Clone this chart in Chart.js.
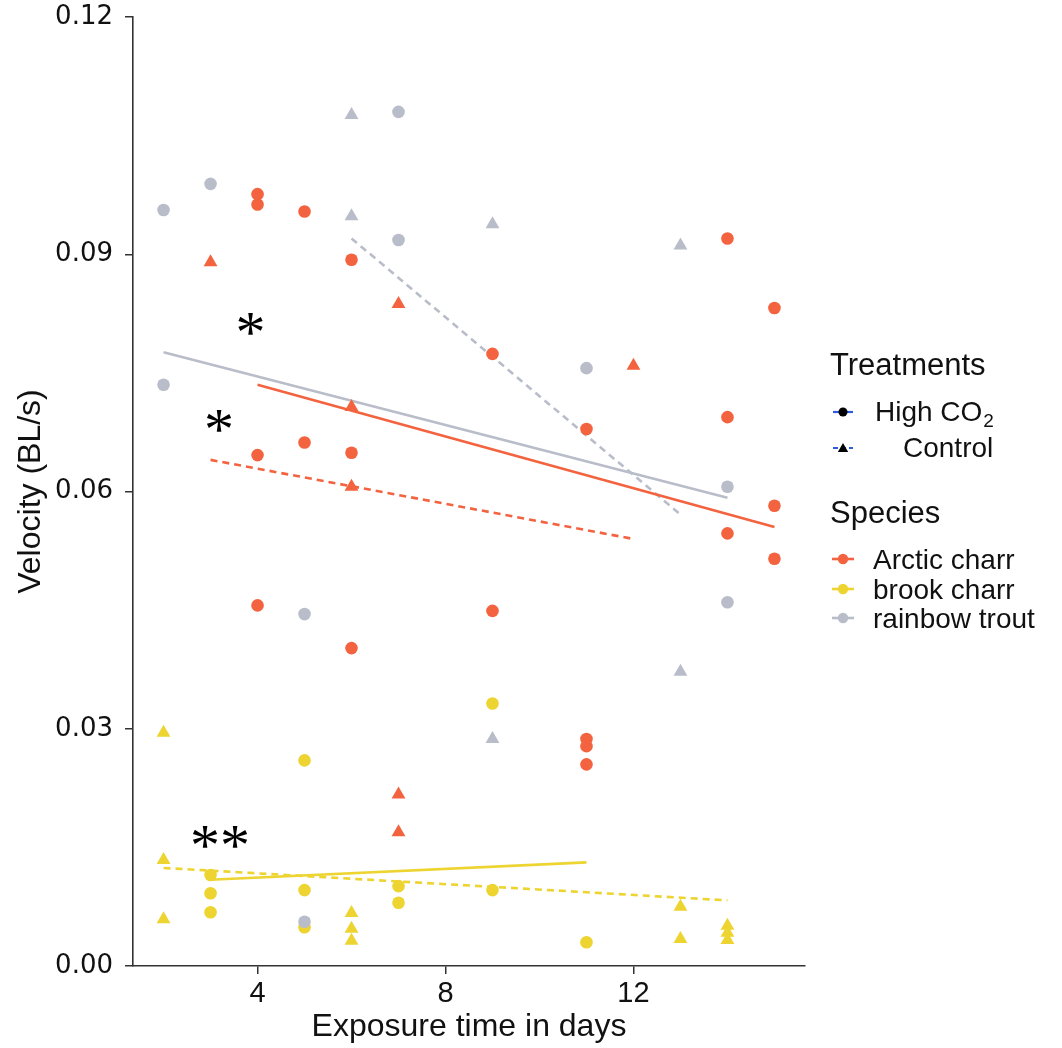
<!DOCTYPE html>
<html><head><meta charset="utf-8">
<script src="https://cdn.jsdelivr.net/npm/chart.js@4.4.0/dist/chart.umd.min.js"></script>
<style>html,body{margin:0;padding:0;background:#fff;} #wrap{width:1062px;height:1048px;}</style>
</head><body><div id="wrap"><canvas id="c" width="1062" height="1048"></canvas></div>
<script>
// ---------- data ----------
const speciesNames = ['Arctic charr', 'brook charr', 'rainbow trout'];
const treatmentNames = ['High CO₂', 'Control'];
const legendTitles = ['Treatments', 'Species'];
const xTickValues = [4, 8, 12];
const yTickValues = [0, 0.03, 0.06, 0.09, 0.12];
const xTitle = 'Exposure time in days';
const yTitle = 'Velocity (BL/s)';

const arcticHighX = [4, 4, 4, 4, 5, 5, 6, 6, 6, 9, 9, 11, 11, 11, 11, 14, 14, 14, 15, 15, 15];
const arcticHighY = [0.0976, 0.0963, 0.0646, 0.0456, 0.0954, 0.0662, 0.0893, 0.0649, 0.0402, 0.0774, 0.0449, 0.0679, 0.0287, 0.0278, 0.0255, 0.0920, 0.0694, 0.0547, 0.0832, 0.0582, 0.0515];
const arcticCtrlX = [3, 6, 6, 7, 7, 7, 12];
const arcticCtrlY = [0.0890, 0.0707, 0.0606, 0.0837, 0.0217, 0.0169, 0.0759];
const brookHighX = [3, 3, 3, 5, 5, 5, 7, 7, 9, 9, 11];
const brookHighY = [0.0115, 0.0092, 0.0068, 0.0260, 0.0096, 0.0049, 0.0101, 0.0080, 0.0332, 0.0096, 0.0030];
const brookCtrlX = [2, 2, 2, 6, 6, 6, 13, 13, 14, 14, 14];
const brookCtrlY = [0.0295, 0.0134, 0.0059, 0.0067, 0.0047, 0.0032, 0.0075, 0.0034, 0.0051, 0.0042, 0.0033];
const troutHighX = [2, 2, 3, 5, 5, 7, 7, 11, 14, 14];
const troutHighY = [0.0956, 0.0735, 0.0989, 0.0445, 0.0056, 0.1080, 0.0918, 0.0756, 0.0606, 0.0460];
const troutCtrlX = [6, 6, 9, 9, 13, 13];
const troutCtrlY = [0.1076, 0.0948, 0.0938, 0.0287, 0.0911, 0.0372];

// fitted trend lines (start, end)
const arcticHighFitX = [4, 15],  arcticHighFitY = [0.0735, 0.0555];
const arcticCtrlFitX = [3, 12],  arcticCtrlFitY = [0.0640, 0.0540];
const brookHighFitX = [3, 11],   brookHighFitY = [0.0109, 0.0131];
const brookCtrlFitX = [2, 14],   brookCtrlFitY = [0.0124, 0.0083];
const troutHighFitX = [2, 14],   troutHighFitY = [0.0776, 0.0592];
const troutCtrlFitX = [6, 13],   troutCtrlFitY = [0.0920, 0.0571];

// significance marks
const sigText = ['*', '*', '**'];
const sigX = [3.85, 3.18, 3.2];
const sigY = [0.0812, 0.0689, 0.0163];

// ---------- styles ----------
const COL = ['#F4633F', '#EDD431', '#B9BDCA'];
const FONT = 'Liberation Sans, Arial, sans-serif';
const INK = '#111111';
const AXIS = '#333333';

const pts = (xs, ys) => xs.map((x, i) => ({x: x, y: ys[i]}));
function scat(label, xs, ys, color, style, order) {
  const r = style === 'triangle' ? 8 : 6.3;
  return {label, data: pts(xs, ys), showLine: false,
    backgroundColor: color, borderColor: color, borderWidth: 0,
    pointStyle: style, pointRadius: r, pointHoverRadius: r, order};
}
function fit(label, xs, ys, color, dashed) {
  return {label, data: pts(xs, ys), showLine: true, pointRadius: 0, pointHoverRadius: 0,
    borderColor: color, backgroundColor: color, borderWidth: 2.6,
    borderDash: dashed ? [7, 5] : [], fill: false, tension: 0, order: 10};
}

const datasets = [
  fit('fit1', arcticHighFitX, arcticHighFitY, COL[0], false),
  fit('fit2', arcticCtrlFitX, arcticCtrlFitY, COL[0], true),
  fit('fit3', brookHighFitX, brookHighFitY, COL[1], false),
  fit('fit4', brookCtrlFitX, brookCtrlFitY, COL[1], true),
  fit('fit5', troutHighFitX, troutHighFitY, COL[2], false),
  fit('fit6', troutCtrlFitX, troutCtrlFitY, COL[2], true),
  scat(speciesNames[0] + ' ' + treatmentNames[0], arcticHighX, arcticHighY, COL[0], 'circle', 3),
  scat(speciesNames[0] + ' ' + treatmentNames[1], arcticCtrlX, arcticCtrlY, COL[0], 'triangle', 3),
  scat(speciesNames[1] + ' ' + treatmentNames[0], brookHighX, brookHighY, COL[1], 'circle', 2),
  scat(speciesNames[1] + ' ' + treatmentNames[1], brookCtrlX, brookCtrlY, COL[1], 'triangle', 2),
  scat(speciesNames[2] + ' ' + treatmentNames[0], troutHighX, troutHighY, COL[2], 'circle', 1),
  scat(speciesNames[2] + ' ' + treatmentNames[1], troutCtrlX, troutCtrlY, COL[2], 'triangle', 1)
];

// significance asterisks plugin
const sigPlugin = {
  id: 'sig',
  afterDatasetsDraw(chart) {
    const ctx = chart.ctx, xs = chart.scales.x, ys = chart.scales.y;
    ctx.save();
    ctx.fillStyle = '#000';
    ctx.font = '60px "Liberation Serif", serif';
    ctx.textAlign = 'center';
    ctx.textBaseline = 'alphabetic';
    sigText.forEach((t, i) => {
      const m = ctx.measureText(t);
      const cx = xs.getPixelForValue(sigX[i]);
      const cy = ys.getPixelForValue(sigY[i]);
      const base = cy + (m.actualBoundingBoxAscent - m.actualBoundingBoxDescent) / 2;
      ctx.fillText(t, cx, base);
    });
    ctx.restore();
  }
};

// legend plugin
function drawLabel(ctx, text, x, y) {
  const idx = text.indexOf('₂');
  if (idx < 0) { ctx.fillText(text, x, y); return; }
  const head = text.slice(0, idx);
  ctx.fillText(head, x, y);
  const w = ctx.measureText(head).width;
  const f = ctx.font;
  ctx.font = '19px ' + FONT;
  ctx.fillText('2', x + w + 1, y + 9);
  ctx.font = f;
}
function tri(ctx, x, y, r) {
  ctx.beginPath();
  for (let k = 0; k < 3; k++) {
    const a = k * 2 * Math.PI / 3;
    const px = x + Math.sin(a) * r, py = y - Math.cos(a) * r;
    if (k === 0) ctx.moveTo(px, py); else ctx.lineTo(px, py);
  }
  ctx.closePath(); ctx.fill();
}
const legendPlugin = {
  id: 'customLegend',
  afterDraw(chart) {
    const ctx = chart.ctx;
    ctx.save();
    ctx.textAlign = 'left';
    ctx.textBaseline = 'middle';
    ctx.fillStyle = INK;
    ctx.font = '31px ' + FONT;
    ctx.fillText(legendTitles[0], 830, 366);
    ctx.fillText(legendTitles[1], 830, 514);

    // treatments
    const tRows = [412, 448];
    const tTextX = [875, 903];
    treatmentNames.forEach((name, i) => {
      const y = tRows[i];
      ctx.strokeStyle = '#2F5BE3';
      ctx.lineWidth = 2.2;
      ctx.setLineDash(i === 1 ? [5, 3] : []);
      ctx.beginPath(); ctx.moveTo(833, y); ctx.lineTo(853, y); ctx.stroke();
      ctx.setLineDash([]);
      ctx.fillStyle = '#000';
      if (i === 0) { ctx.beginPath(); ctx.arc(843, y, 4.5, 0, 2 * Math.PI); ctx.fill(); }
      else { tri(ctx, 843, y + 1, 6); }
      ctx.fillStyle = INK;
      ctx.font = '28px ' + FONT;
      drawLabel(ctx, name, tTextX[i], y + 1);
    });

    // species
    const sRows = [559, 589, 618];
    speciesNames.forEach((name, i) => {
      const y = sRows[i];
      ctx.strokeStyle = COL[i];
      ctx.lineWidth = 2.6;
      ctx.beginPath(); ctx.moveTo(832, y); ctx.lineTo(854, y); ctx.stroke();
      ctx.fillStyle = COL[i];
      ctx.beginPath(); ctx.arc(843, y, 5.2, 0, 2 * Math.PI); ctx.fill();
      ctx.fillStyle = INK;
      ctx.font = '28px ' + FONT;
      ctx.fillText(name, 873, y + 2);
    });
    ctx.restore();
  }
};

new Chart(document.getElementById('c'), {
  type: 'scatter',
  data: {datasets},
  plugins: [sigPlugin, legendPlugin],
  options: {
    responsive: false, animation: false, devicePixelRatio: 1, events: [],
    layout: {padding: {top: 17, right: 257, left: 0, bottom: 0}},
    plugins: {legend: {display: false}, tooltip: {enabled: false}},
    scales: {
      x: {
        type: 'linear', min: 1.35, max: 15.65,
        afterBuildTicks: s => { s.ticks = xTickValues.map(v => ({value: v})); },
        afterFit: s => { s.height = 82; s.paddingLeft = 0; s.paddingRight = 0; },
        grid: {display: true, drawOnChartArea: false, drawTicks: true, tickLength: 8, color: AXIS, lineWidth: 1.5},
        border: {display: true, color: AXIS, width: 1.6},
        ticks: {font: {family: FONT, size: 29}, color: INK, padding: 3, maxRotation: 0, autoSkip: false,
                callback: v => String(v)},
        title: {display: true, text: xTitle, font: {family: FONT, size: 32, lineHeight: 1.2}, color: INK,
                padding: {top: 0, bottom: 2}}
      },
      y: {
        type: 'linear', min: 0, max: 0.12,
        afterBuildTicks: s => { s.ticks = yTickValues.map(v => ({value: v})); },
        afterFit: s => { s.width = 133; s.paddingTop = 0; s.paddingBottom = 0; },
        grid: {display: true, drawOnChartArea: false, drawTicks: true, tickLength: 8, color: AXIS, lineWidth: 1.5},
        border: {display: true, color: AXIS, width: 1.6},
        ticks: {font: {family: 'DejaVu Sans, sans-serif', size: 26}, color: INK, padding: 12, autoSkip: false,
                callback: v => Number(v).toFixed(2)},
        title: {display: true, text: yTitle, font: {family: FONT, size: 32, lineHeight: 1.2}, color: INK,
                padding: {top: 12, bottom: 0}}
      }
    }
  }
});
</script>
</body></html>
